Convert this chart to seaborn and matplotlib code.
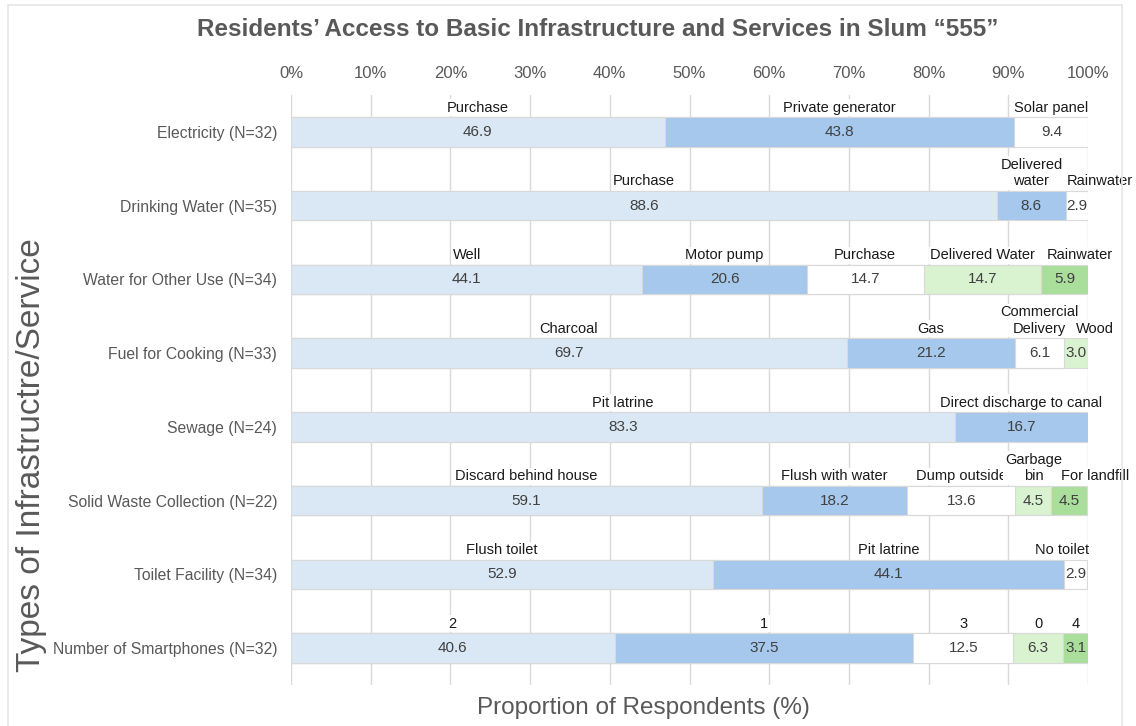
import matplotlib
matplotlib.use('Agg')

import pandas as pd
import numpy as np
import seaborn as sns
import matplotlib.pyplot as plt
from matplotlib.patches import Rectangle

categories = ["Electricity (N=32)", "Drinking Water (N=35)", "Water for Other Use (N=34)",
              "Fuel for Cooking (N=33)", "Sewage (N=24)", "Solid Waste Collection (N=22)",
              "Toilet Facility (N=34)", "Number of Smartphones (N=32)"]

seg_labels = [
    ["Purchase", "Private generator", "Solar panel"],
    ["Purchase", "Delivered\nwater", "Rainwater"],
    ["Well", "Motor pump", "Purchase", "Delivered Water", "Rainwater"],
    ["Charcoal", "Gas", "Commercial\nDelivery", "Wood"],
    ["Pit latrine", "Direct discharge to canal"],
    ["Discard behind house", "Flush with water", "Dump outside", "Garbage\nbin", "For landfill"],
    ["Flush toilet", "Pit latrine", "No toilet"],
    ["2", "1", "3", "0", "4"],
]

seg_values = [
    [46.9, 43.8, 9.4],
    [88.6, 8.6, 2.9],
    [44.1, 20.6, 14.7, 14.7, 5.9],
    [69.7, 21.2, 6.1, 3.0],
    [83.3, 16.7],
    [59.1, 18.2, 13.6, 4.5, 4.5],
    [52.9, 44.1, 2.9],
    [40.6, 37.5, 12.5, 6.3, 3.1],
]

# label x nudges (in %) where the reference moves a label off-centre
label_x = {(1, 2): 101.5, (2, 4): 99.0, (3, 3): 100.9, (5, 4): 100.9, (6, 2): 96.7}

colors = ["#dae8f5", "#a5c8ec", "#ffffff", "#d9f2d0", "#a9df9b"]

rows = []
for cat, vals in zip(categories, seg_values):
    ends = np.cumsum(vals)
    for k, (v, e) in enumerate(zip(vals, ends)):
        rows.append({"category": cat, "rank": k, "value": v, "end": min(e, 100)})
df = pd.DataFrame(rows)

sns.set_theme(style="white")
plt.rcParams['font.family'] = ['Liberation Sans', 'DejaVu Sans']

fig = plt.figure(figsize=(11.36, 7.26), dpi=100)
ax = fig.add_axes([291 / 1136, 1 - 685 / 726, 797 / 1136, 590 / 726])

# stacked bars: draw cumulative ends from last segment to first
for k in reversed(range(len(colors))):
    sub = df[df["rank"] == k]
    sns.barplot(data=sub, x="end", y="category", order=categories, orient="h",
                color=colors[k], saturation=1, width=0.4,
                edgecolor="#d9d9d9", linewidth=0.8, ax=ax)

txt = "#404040"
for i, (labs, vals) in enumerate(zip(seg_labels, seg_values)):
    start = 0
    for k, (lab, v) in enumerate(zip(labs, vals)):
        c = start + v / 2
        ax.text(c, i, f"{v:.1f}", ha="center", va="center", fontsize=11, color=txt)
        lx = label_x.get((i, k), c)
        ax.text(lx, i - 0.235, lab, ha="center", va="bottom", fontsize=10.5, color="#1a1a1a",
                linespacing=1.25, clip_on=False,
                bbox=dict(boxstyle="square,pad=0.1", facecolor="white", edgecolor="none"))
        start += v

ax.set_xlim(0, 100)
ax.set_ylim(7.5, -0.5)
ax.set_xticks(np.arange(0, 101, 10))
ax.set_xticklabels([f"{t}%" for t in range(0, 101, 10)])
ax.xaxis.tick_top()
ax.tick_params(axis="x", length=0, pad=10, labelsize=12, labelcolor="#595959")
ax.tick_params(axis="y", length=0, pad=10, labelsize=11.3, labelcolor="#595959")
ax.grid(axis="x", color="#d9d9d9", linewidth=1)
ax.grid(axis="y", visible=False)
ax.set_axisbelow(True)
for s in ax.spines.values():
    s.set_visible(False)

ax.set_xlabel("Proportion of Respondents (%)", fontsize=17.5, color="#595959")
ax.xaxis.set_label_position("bottom")
ax.xaxis.set_label_coords(0.442, -0.02)
ax.xaxis.label.set_va("top")
ax.set_ylabel("Types of Infrastructre/Service", fontsize=24, color="#595959")
ax.yaxis.set_label_coords(-0.306, 0.39)

fig.text(598 / 1136, 1 - 30 / 726, "Residents’ Access to Basic Infrastructure and Services in Slum “555”",
         ha="center", va="center", fontsize=17.5, fontweight="bold", color="#595959")

fig.patches.append(Rectangle((8 / 1136, -0.01), 1114 / 1136, 1 - 5 / 726 + 0.01,
                             transform=fig.transFigure, fill=False, edgecolor="#e6e6e6", linewidth=1.2))

fig.savefig("out.png", dpi=100)
